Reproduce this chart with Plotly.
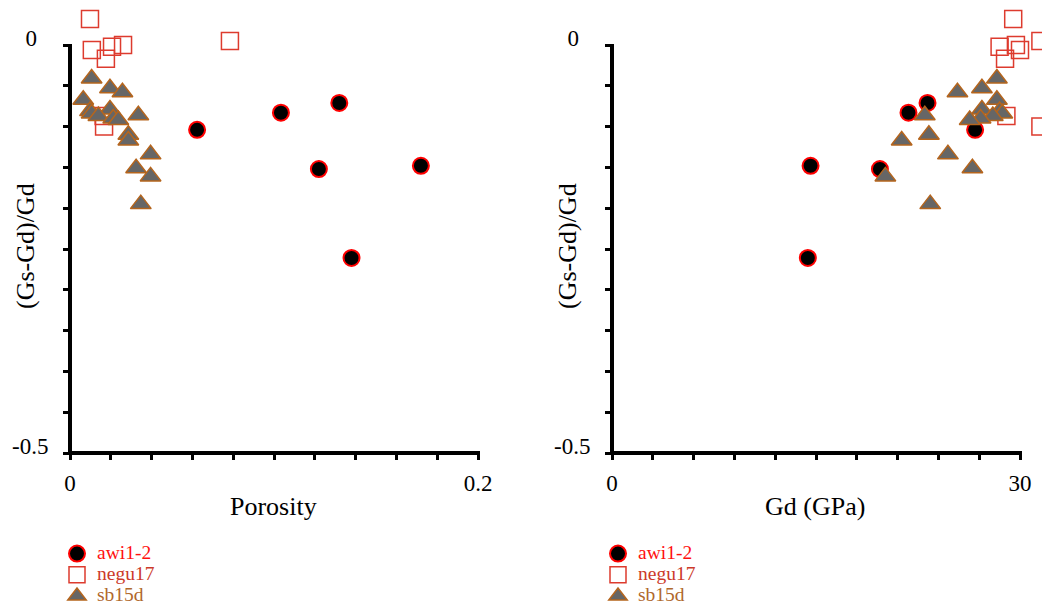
import plotly.graph_objects as go

# ---- data ----
awi_por = [0.0623, 0.1034, 0.132, 0.122, 0.172, 0.138]
awi_dev = [-0.104, -0.083, -0.071, -0.152, -0.148, -0.261]
awi_gd = [26.7, 21.8, 23.2, 19.7, 14.6, 14.4]

negu_por = [0.0098, 0.0784, 0.026, 0.0206, 0.0107, 0.0176, 0.0165, 0.0167]
negu_dev = [0.032, 0.005, 0.0, -0.002, -0.006, -0.017, -0.087, -0.100]
negu_gd = [29.5, 31.5, 29.7, 28.5, 30.0, 28.9, 29.0, 31.5]

sb_por = [0.0106, 0.0196, 0.0257, 0.0065, 0.0196, 0.0098, 0.0106, 0.0335, 0.0139,
          0.0212, 0.0237, 0.0286, 0.0286, 0.0395, 0.0324, 0.0395, 0.0347]
sb_dev = [-0.041, -0.053, -0.058, -0.067, -0.079, -0.081, -0.084, -0.086, -0.087,
          -0.090, -0.092, -0.110, -0.117, -0.134, -0.151, -0.161, -0.195]
sb_gd = [28.3, 27.2, 25.4, 28.3, 27.2, 28.5, 28.7, 23.0, 28.0,
         27.1, 26.3, 23.3, 21.3, 24.7, 26.5, 20.1, 23.4]

series_names = ["awi1-2", "negu17", "sb15d"]
name_colors = ["#ff1010", "#cc3a2a", "#b0682c"]

NB = "\u00a0"
y_ticks = [0, -0.05, -0.1, -0.15, -0.2, -0.25, -0.3, -0.35, -0.4, -0.45, -0.5]
y_ticktext = ["0" + NB * 2] + [""] * 9 + ["-0.5"]
por_ticks = [0, 0.02, 0.04, 0.06, 0.08, 0.1, 0.12, 0.14, 0.16, 0.18, 0.2]
por_ticktext = ["0"] + [""] * 9 + ["0.2"]
gd_ticks = [0, 3, 6, 9, 12, 15, 18, 21, 24, 27, 30]
gd_ticktext = ["0"] + [""] * 9 + ["30"]

FONT = "Liberation Serif, Times New Roman, serif"
W, H = 1050, 609
OFF = 8  # page body margin

def px_x(p):
    return (p - OFF) / W

def px_y(p):
    return 1 - (p - OFF) / H

fig = go.Figure()

styles = [
    dict(symbol="circle", size=16, color="black", line=dict(color="#ff0000", width=2)),
    dict(symbol="square-open", size=17, color="#dd3b2e", line=dict(color="#dd3b2e", width=1.5)),
    dict(symbol="triangle-up", size=18, color="#666666", line=dict(color="#b5651d", width=1.5)),
]

panels = [
    ("x", "y", "legend", [awi_por, negu_por, sb_por]),
    ("x2", "y2", "legend2", [awi_gd, negu_gd, sb_gd]),
]
devs = [awi_dev, negu_dev, sb_dev]

for xa, ya, lg, xs in panels:
    for i in range(3):
        fig.add_trace(go.Scatter(
            x=xs[i], y=devs[i], mode="markers", xaxis=xa, yaxis=ya,
            marker=styles[i], cliponaxis=False, legend=lg,
            name='<span style="color:%s;font-size:19.5px">%s</span>' % (name_colors[i], series_names[i]),
        ))

# reference geometry: 0..-0.5 spans 408 px vertically, 0.2 / 30 span 408 px horizontally
Y_TOP = 0.045          # range extends a little above 0 so points above zero stay visible
y_top_px = 45 - Y_TOP * 408 / 0.5
GD_MAX = 32.3
gd_right_px = 612 + GD_MAX * 408 / 30

tick_common = dict(ticks="outside", ticklen=6, tickwidth=3, tickcolor="black",
                   tickfont=dict(family=FONT, size=23, color="black"), tickmode="array",
                   showgrid=False, zeroline=False, automargin=False, fixedrange=True)

fig.update_layout(
    width=W, height=H, margin=dict(l=0, r=0, t=0, b=0),
    paper_bgcolor="white", plot_bgcolor="rgba(0,0,0,0)",
    font=dict(family=FONT, color="black"),
    xaxis=dict(domain=[px_x(70), px_x(478)], range=[0, 0.2], anchor="y",
               tickvals=por_ticks, ticktext=por_ticktext, ticklabelstandoff=3,
               showline=False, **tick_common),
    yaxis=dict(domain=[px_y(453), px_y(y_top_px)], range=[-0.5, Y_TOP], anchor="x",
               tickvals=y_ticks, ticktext=y_ticktext, ticklabelstandoff=10, ticklabelshift=-7,
               showline=False, **tick_common),
    xaxis2=dict(domain=[px_x(612), px_x(gd_right_px)], range=[0, GD_MAX], anchor="y2",
                tickvals=gd_ticks, ticktext=gd_ticktext, ticklabelstandoff=3,
                showline=False, **tick_common),
    yaxis2=dict(domain=[px_y(453), px_y(y_top_px)], range=[-0.5, Y_TOP], anchor="x2",
                tickvals=y_ticks, ticktext=y_ticktext, ticklabelstandoff=10, ticklabelshift=-7,
                showline=False, **tick_common),
    legend=dict(x=px_x(57), y=px_y(538), xanchor="left", yanchor="top",
                font=dict(family=FONT, size=14), bgcolor="rgba(0,0,0,0)",
                tracegroupgap=0),
    legend2=dict(x=px_x(598), y=px_y(538), xanchor="left", yanchor="top",
                 font=dict(family=FONT, size=14), bgcolor="rgba(0,0,0,0)",
                 tracegroupgap=0),
    showlegend=True,
)

# axis lines (paper-referenced so they are not clipped), spanning the labelled extent
axis_lines = [
    dict(x0=px_x(70), x1=px_x(70), y0=px_y(455), y1=px_y(44)),
    dict(x0=px_x(68), x1=px_x(480), y0=px_y(453), y1=px_y(453)),
    dict(x0=px_x(612), x1=px_x(612), y0=px_y(455), y1=px_y(44)),
    dict(x0=px_x(610), x1=px_x(1022), y0=px_y(453), y1=px_y(453)),
]
for s in axis_lines:
    fig.add_shape(type="line", xref="paper", yref="paper",
                  line=dict(color="black", width=4), layer="below", **s)

title_font = dict(family=FONT, size=26, color="black")
annots = [
    dict(text="Porosity", x=px_x(273), y=px_y(506)),
    dict(text="Gd (GPa)", x=px_x(815), y=px_y(506)),
    dict(text="(Gs-Gd)/Gd", x=px_x(26), y=px_y(246), textangle=-90),
    dict(text="(Gs-Gd)/Gd", x=px_x(568), y=px_y(246), textangle=-90),
]
for a in annots:
    fig.add_annotation(xref="paper", yref="paper", showarrow=False,
                       xanchor="center", yanchor="middle", font=title_font, **a)

fig.write_html("out.html")
